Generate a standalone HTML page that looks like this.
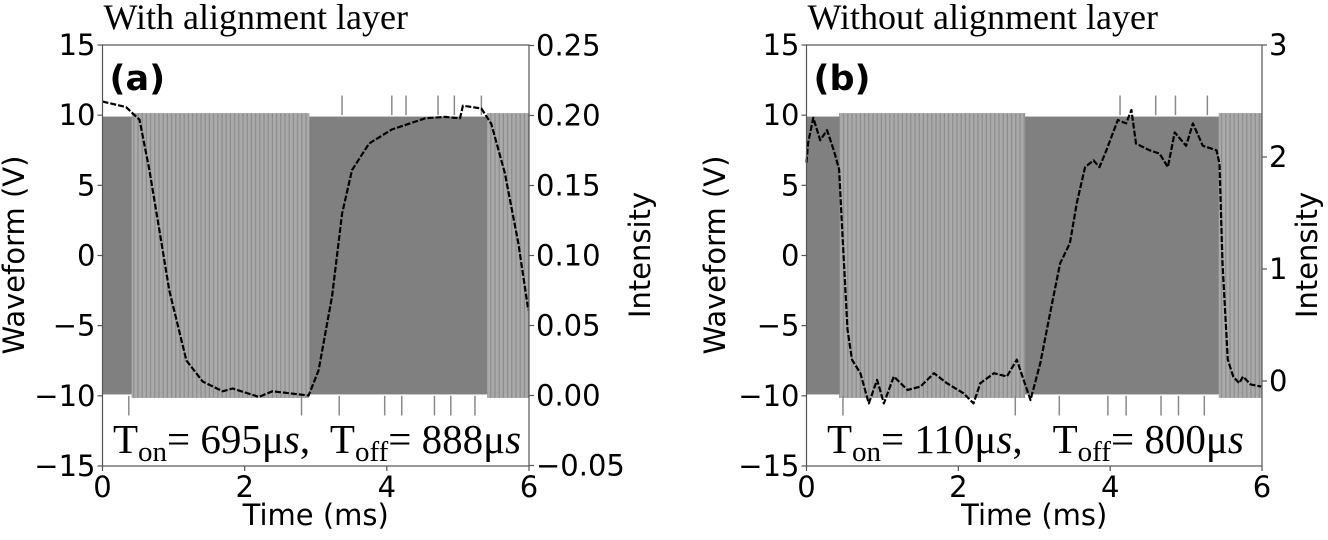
<!DOCTYPE html>
<html><head><meta charset="utf-8"><style>
html,body{margin:0;padding:0;background:#fff;}
svg{display:block;}
text{font-family:"DejaVu Sans","Liberation Sans",sans-serif;fill:#000;}
.serif{font-family:"Liberation Serif",serif;}
</style></head><body>
<svg id="fig" width="1328" height="540" viewBox="0 0 1328 540" xmlns="http://www.w3.org/2000/svg"></svg>
<script>
// ---------- data ----------
const timeA = [0.00,0.33,0.52,0.66,0.80,0.94,1.18,1.41,1.69,1.83,2.20,2.39,2.90,3.04,3.23,3.37,3.51,3.75,4.07,4.54,4.82,5.03,5.07,5.33,5.47,5.66,5.85,5.99];
const intensityA = [0.210,0.206,0.197,0.161,0.118,0.075,0.025,0.010,0.003,0.005,-0.001,0.003,0.000,0.018,0.071,0.130,0.161,0.180,0.190,0.198,0.199,0.198,0.207,0.205,0.194,0.159,0.109,0.061];
const timeB = [0.00,0.02,0.09,0.18,0.27,0.36,0.43,0.47,0.54,0.60,0.71,0.82,0.93,1.02,1.15,1.33,1.50,1.68,1.85,2.07,2.20,2.29,2.47,2.64,2.77,2.86,2.95,3.08,3.21,3.34,3.47,3.56,3.67,3.78,3.86,3.95,4.10,4.21,4.28,4.34,4.52,4.65,4.76,4.85,5.00,5.09,5.22,5.40,5.44,5.48,5.55,5.62,5.70,5.75,5.85,5.99];
const intensityB = [1.95,2.12,2.35,2.15,2.24,2.06,1.89,1.35,0.46,0.19,0.07,-0.20,0.01,-0.20,0.04,-0.08,-0.05,0.07,-0.02,-0.11,-0.20,-0.02,0.07,0.04,0.19,0.01,-0.17,0.16,0.61,1.05,1.23,1.59,1.91,1.97,1.91,2.06,2.33,2.30,2.42,2.12,2.06,2.03,1.91,2.22,2.10,2.30,2.10,2.06,1.94,1.05,0.19,0.04,-0.02,0.04,-0.03,-0.05];
// waveform: light (low-frequency) segments, amplitude ±10 V
const lightStartA = [0.41,5.41], lightEndA = [2.91,6.0];
const lightStartB = [0.43,5.43], lightEndB = [2.88,6.0];
const spikeUpA = [3.37,4.07,4.27,4.72,4.95,5.33];
const spikeDownA = [0.37,2.80,3.33,3.97,4.21,4.67,4.90,5.24];
const spikeUpB = [4.13,4.60,4.86,5.28];
const spikeDownB = [0.48,2.75,3.33,3.97,4.21,4.67,4.90,5.24];
const xTicks = [0,2,4,6];
const yTicks = [15,10,5,0,-5,-10,-15];
const yTickLabels = ["15","10","5","0","\u22125","\u221210","\u221215"];
const rTicksA = [0.25,0.20,0.15,0.10,0.05,0.00,-0.05];
const rTickLabelsA = ["0.25","0.20","0.15","0.10","0.05","0.00","\u22120.05"];
const rTicksB = [3,2,1,0];
const rTickLabelsB = ["3","2","1","0"];

const NS="http://www.w3.org/2000/svg";
const svg=document.getElementById('fig');
function mk(tag,attrs,parent){const e=document.createElementNS(NS,tag);for(const k in attrs)e.setAttribute(k,attrs[k]);(parent||svg).appendChild(e);return e;}

// patterns
const defs=mk('defs',{});
const pat=mk('pattern',{id:'stripes',width:4.2,height:10,patternUnits:'userSpaceOnUse'},defs);
mk('rect',{x:0,y:0,width:4.2,height:10,fill:'#8c8c8c'},pat);
mk('rect',{x:0,y:0,width:3.0,height:10,fill:'#aaaaaa'},pat);

function panel(cfg){
  const L=cfg.L,R=cfg.R,T=45,B=466;
  const xs=t=>L+(t/6)*(R-L);
  const ys=v=>T+(15-v)/30*(B-T);
  const g=mk('g',{});
  
  
  const wave=mk('g',{},g);
  
  
  const base=mk('rect',{x:xs(0),y:ys(9.9),width:xs(6)-xs(0),height:ys(-9.9)-ys(9.9),fill:'#808080'},wave);
  
  
  for(let i=0;i<cfg.ls.length;i++){
    const r=mk('rect',{x:xs(cfg.ls[i]),y:ys(10.15),width:xs(cfg.le[i])-xs(cfg.ls[i]),height:ys(-10.15)-ys(10.15),fill:'url(#stripes)'},wave);
    
    
  }
  for(const t of cfg.su){const l=mk('line',{x1:xs(t),x2:xs(t),y1:ys(10),y2:ys(11.4),stroke:'#8a8a8a','stroke-width':1.5},wave);}
  for(const t of cfg.sd){const l=mk('line',{x1:xs(t),x2:xs(t),y1:ys(-10),y2:ys(-11.4),stroke:'#8a8a8a','stroke-width':1.5},wave);}
  const rs=cfg.rs;
  let d='';
  for(let i=0;i<cfg.t.length;i++){d+=(i?'L':'M')+xs(cfg.t[i]).toFixed(1)+','+rs(cfg.I[i]).toFixed(1);}
  const p=mk('path',{d:d,fill:'none',stroke:'#000','stroke-width':2.2,'stroke-dasharray':'6,2','stroke-linejoin':'round'},g);
  
  
  const fr=mk('rect',{x:L,y:T,width:R-L,height:B-T,fill:'none',stroke:'#555','stroke-width':1.2},g);
  
  
  yTicks.forEach((v,i)=>{
    mk('line',{x1:L-5,x2:L,y1:ys(v),y2:ys(v),stroke:'#555','stroke-width':1.2},g);
    const t=mk('text',{x:L-7,y:ys(v)+10,'text-anchor':'end','font-size':29},g);
    t.textContent=yTickLabels[i];
    
    
  });
  xTicks.forEach(v=>{
    mk('line',{x1:xs(v),x2:xs(v),y1:B,y2:B+5,stroke:'#555','stroke-width':1.2},g);
    const t=mk('text',{x:xs(v),y:B+31,'text-anchor':'middle','font-size':29},g);
    t.textContent=String(v);
    
    
  });
  cfg.rt.forEach((v,i)=>{
    mk('line',{x1:R,x2:R+5,y1:rs(v),y2:rs(v),stroke:'#555','stroke-width':1.2},g);
    const t=mk('text',{x:R+7,y:rs(v)+10,'font-size':29},g);
    t.textContent=cfg.rl[i];
    
    
  });
  const xl=mk('text',{x:(L+R)/2,y:525,'text-anchor':'middle','font-size':29},g);
  xl.textContent='Time (ms)';
  
  
  const yl=mk('text',{x:0,y:0,'text-anchor':'middle','font-size':29,transform:`translate(${cfg.ylx},255) rotate(-90)`},g);
  yl.textContent='Waveform (V)';
  
  
  const rl=mk('text',{x:0,y:0,'text-anchor':'middle','font-size':29,transform:`translate(${cfg.rlx},255) rotate(-90)`},g);
  rl.textContent='Intensity';
  
  
  const ti=mk('text',{x:L+1,y:29,'font-size':36,class:'serif'},g);
  ti.textContent=cfg.title;
  
  
  const lb=mk('text',{x:L+7,y:90,'font-size':35,'font-weight':'bold'},g);
  lb.textContent=cfg.label;
  
  
  const an=mk('text',{x:cfg.ax,y:453,'font-size':41,class:'serif'},g);
  
  
  an.innerHTML=`T<tspan font-size="29" dy="8">on</tspan><tspan dy="-8">= ${cfg.ton}\u03bc<tspan font-style="italic">s</tspan>,${cfg.gap}T</tspan><tspan font-size="29" dy="8">off</tspan><tspan dy="-8">= ${cfg.toff}\u03bc<tspan font-style="italic">s</tspan></tspan>`;
}
panel({name:'panel-a',L:102.5,R:529,ls:lightStartA,le:lightEndA,su:spikeUpA,sd:spikeDownA,t:timeA,I:intensityA,
  rs:v=>395.5-(v/0.2)*(395.5-115.5),rt:rTicksA,rl:rTickLabelsA,ylx:24,rlx:650,title:'With alignment layer',label:'(a)',ax:113,ton:'695',toff:'888',gap:'\u00a0 '});
panel({name:'panel-b',L:806.5,R:1262,ls:lightStartB,le:lightEndB,su:spikeUpB,sd:spikeDownB,t:timeB,I:intensityB,
  rs:v=>381-v*112,rt:rTicksB,rl:rTickLabelsB,ylx:725,rlx:1317,title:'Without alignment layer',label:'(b)',ax:827,ton:'110',toff:'800',gap:'\u00a0\u00a0 '});
</script>
</body></html>
